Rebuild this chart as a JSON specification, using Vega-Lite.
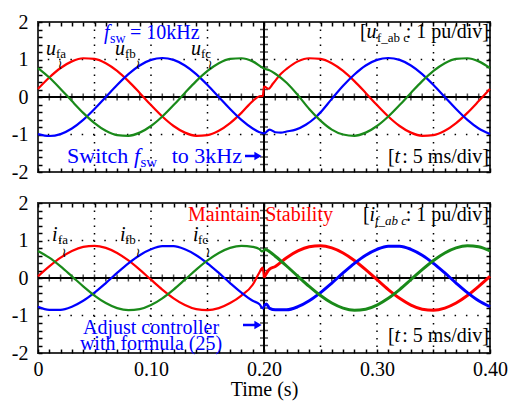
{
"$schema": "https://vega.github.io/schema/vega-lite/v6.json",
"padding": {"left": 10, "top": 11, "right": 3, "bottom": 3},
"bounds": "flush",
"spacing": 31,
"config": {
  "font": "'Liberation Serif', 'Times New Roman', serif",
  "text": {"font": "'Liberation Serif', 'Times New Roman', serif"},
  "view": {"stroke": "#333", "strokeWidth": 2},
  "axis": {"labelFont": "'Liberation Serif', 'Times New Roman', serif", "labelFontSize": 20, "labelColor": "#000", "titleFont": "'Liberation Serif', 'Times New Roman', serif", "titleFontSize": 20, "titleFontWeight": "normal", "titleColor": "#000", "tickColor": "#000", "tickWidth": 1.5, "domain": false, "grid": false, "labelOverlap": false, "labelBound": false, "labelFlush": false}
},
"datasets": {
  "gx": [{"t":0.05},{"t":0.1},{"t":0.15},{"t":0.25},{"t":0.3},{"t":0.35}],
  "gy": [{"v":-1},{"v":1}],
  "xt": [{"t":0.01},{"t":0.02},{"t":0.03},{"t":0.04},{"t":0.05},{"t":0.06},{"t":0.07},{"t":0.08},{"t":0.09},{"t":0.1},{"t":0.11},{"t":0.12},{"t":0.13},{"t":0.14},{"t":0.15},{"t":0.16},{"t":0.17},{"t":0.18},{"t":0.19},{"t":0.21},{"t":0.22},{"t":0.23},{"t":0.24},{"t":0.25},{"t":0.26},{"t":0.27},{"t":0.28},{"t":0.29},{"t":0.3},{"t":0.31},{"t":0.32},{"t":0.33},{"t":0.34},{"t":0.35},{"t":0.36},{"t":0.37},{"t":0.38},{"t":0.39}],
  "yt": [{"v":-1.8},{"v":-1.6},{"v":-1.4},{"v":-1.2},{"v":-1},{"v":-0.8},{"v":-0.6},{"v":-0.4},{"v":-0.2},{"v":0.2},{"v":0.4},{"v":0.6},{"v":0.8},{"v":1},{"v":1.2},{"v":1.4},{"v":1.6},{"v":1.8}],
  "top": [
    {"t":0,"s":"a","v":0.216},{"t":0.01,"s":"a","v":0.52},{"t":0.02,"s":"a","v":0.773},{"t":0.03,"s":"a","v":0.95},{"t":0.04,"s":"a","v":1.034},{"t":0.05,"s":"a","v":1.017},{"t":0.06,"s":"a","v":0.901},{"t":0.07,"s":"a","v":0.696},{"t":0.08,"s":"a","v":0.423},{"t":0.09,"s":"a","v":0.109},{"t":0.1,"s":"a","v":-0.216},{"t":0.11,"s":"a","v":-0.52},{"t":0.12,"s":"a","v":-0.773},{"t":0.13,"s":"a","v":-0.95},{"t":0.14,"s":"a","v":-1.034},{"t":0.15,"s":"a","v":-1.017},{"t":0.16,"s":"a","v":-0.901},{"t":0.17,"s":"a","v":-0.696},{"t":0.18,"s":"a","v":-0.423},{"t":0.19,"s":"a","v":-0.109},{"t":0.196,"s":"a","v":0.02},{"t":0.199,"s":"a","v":0.03},{"t":0.2,"s":"a","v":0.28},{"t":0.204,"s":"a","v":0.22},{"t":0.208,"s":"a","v":0.36},{"t":0.215,"s":"a","v":0.62},{"t":0.22,"s":"a","v":0.75},{"t":0.23,"s":"a","v":0.95},{"t":0.24,"s":"a","v":1.034},{"t":0.25,"s":"a","v":1.017},{"t":0.26,"s":"a","v":0.901},{"t":0.27,"s":"a","v":0.696},{"t":0.28,"s":"a","v":0.423},{"t":0.29,"s":"a","v":0.109},{"t":0.3,"s":"a","v":-0.216},{"t":0.31,"s":"a","v":-0.52},{"t":0.32,"s":"a","v":-0.773},{"t":0.33,"s":"a","v":-0.95},{"t":0.34,"s":"a","v":-1.034},{"t":0.35,"s":"a","v":-1.017},{"t":0.36,"s":"a","v":-0.901},{"t":0.37,"s":"a","v":-0.696},{"t":0.38,"s":"a","v":-0.423},{"t":0.39,"s":"a","v":-0.109},{"t":0.4,"s":"a","v":0.216},
    {"t":0,"s":"b","v":-0.989},{"t":0.01,"s":"b","v":-1.04},{"t":0.02,"s":"b","v":-0.989},{"t":0.03,"s":"b","v":-0.841},{"t":0.04,"s":"b","v":-0.611},{"t":0.05,"s":"b","v":-0.321},{"t":0.06,"s":"b","v":0},{"t":0.07,"s":"b","v":0.321},{"t":0.08,"s":"b","v":0.611},{"t":0.09,"s":"b","v":0.841},{"t":0.1,"s":"b","v":0.989},{"t":0.11,"s":"b","v":1.04},{"t":0.12,"s":"b","v":0.989},{"t":0.13,"s":"b","v":0.841},{"t":0.14,"s":"b","v":0.611},{"t":0.15,"s":"b","v":0.321},{"t":0.16,"s":"b","v":0},{"t":0.17,"s":"b","v":-0.321},{"t":0.18,"s":"b","v":-0.611},{"t":0.19,"s":"b","v":-0.841},{"t":0.196,"s":"b","v":-0.94},{"t":0.2,"s":"b","v":-0.97},{"t":0.205,"s":"b","v":-0.87},{"t":0.21,"s":"b","v":-0.94},{"t":0.215,"s":"b","v":-0.95},{"t":0.22,"s":"b","v":-0.92},{"t":0.228,"s":"b","v":-0.87},{"t":0.237,"s":"b","v":-0.74},{"t":0.245,"s":"b","v":-0.56},{"t":0.25,"s":"b","v":-0.41},{"t":0.26,"s":"b","v":-0.05},{"t":0.27,"s":"b","v":0.3},{"t":0.28,"s":"b","v":0.6},{"t":0.29,"s":"b","v":0.84},{"t":0.3,"s":"b","v":0.989},{"t":0.31,"s":"b","v":1.04},{"t":0.32,"s":"b","v":0.989},{"t":0.33,"s":"b","v":0.841},{"t":0.34,"s":"b","v":0.611},{"t":0.35,"s":"b","v":0.321},{"t":0.36,"s":"b","v":0},{"t":0.37,"s":"b","v":-0.321},{"t":0.38,"s":"b","v":-0.611},{"t":0.39,"s":"b","v":-0.841},{"t":0.4,"s":"b","v":-0.989},
    {"t":0,"s":"c","v":0.773},{"t":0.01,"s":"c","v":0.52},{"t":0.02,"s":"c","v":0.216},{"t":0.03,"s":"c","v":-0.109},{"t":0.04,"s":"c","v":-0.423},{"t":0.05,"s":"c","v":-0.696},{"t":0.06,"s":"c","v":-0.901},{"t":0.07,"s":"c","v":-1.017},{"t":0.08,"s":"c","v":-1.034},{"t":0.09,"s":"c","v":-0.95},{"t":0.1,"s":"c","v":-0.773},{"t":0.11,"s":"c","v":-0.52},{"t":0.12,"s":"c","v":-0.216},{"t":0.13,"s":"c","v":0.109},{"t":0.14,"s":"c","v":0.423},{"t":0.15,"s":"c","v":0.696},{"t":0.16,"s":"c","v":0.901},{"t":0.17,"s":"c","v":1.017},{"t":0.18,"s":"c","v":1.034},{"t":0.19,"s":"c","v":0.95},{"t":0.2,"s":"c","v":0.76},{"t":0.205,"s":"c","v":0.71},{"t":0.21,"s":"c","v":0.62},{"t":0.22,"s":"c","v":0.38},{"t":0.23,"s":"c","v":0.05},{"t":0.24,"s":"c","v":-0.32},{"t":0.25,"s":"c","v":-0.63},{"t":0.26,"s":"c","v":-0.87},{"t":0.27,"s":"c","v":-1.0},{"t":0.28,"s":"c","v":-1.034},{"t":0.29,"s":"c","v":-0.95},{"t":0.3,"s":"c","v":-0.773},{"t":0.31,"s":"c","v":-0.52},{"t":0.32,"s":"c","v":-0.216},{"t":0.33,"s":"c","v":0.109},{"t":0.34,"s":"c","v":0.423},{"t":0.35,"s":"c","v":0.696},{"t":0.36,"s":"c","v":0.901},{"t":0.37,"s":"c","v":1.017},{"t":0.38,"s":"c","v":1.034},{"t":0.39,"s":"c","v":0.95},{"t":0.4,"s":"c","v":0.773}
  ],
  "bot": [
    {"t":0,"s":"a","v":0.045},{"t":0.01,"s":"a","v":0.308},{"t":0.02,"s":"a","v":0.541},{"t":0.03,"s":"a","v":0.721},{"t":0.04,"s":"a","v":0.831},{"t":0.05,"s":"a","v":0.859},{"t":0.06,"s":"a","v":0.803},{"t":0.07,"s":"a","v":0.668},{"t":0.08,"s":"a","v":0.468},{"t":0.09,"s":"a","v":0.223},{"t":0.1,"s":"a","v":-0.045},{"t":0.11,"s":"a","v":-0.308},{"t":0.12,"s":"a","v":-0.541},{"t":0.13,"s":"a","v":-0.721},{"t":0.14,"s":"a","v":-0.831},{"t":0.15,"s":"a","v":-0.859},{"t":0.16,"s":"a","v":-0.803},{"t":0.17,"s":"a","v":-0.668},{"t":0.18,"s":"a","v":-0.468},{"t":0.19,"s":"a","v":-0.18},{"t":0.1958,"s":"a","v":0.14},{"t":0.1988,"s":"a","v":0.275},{"t":0.2,"s":"a","v":0.01},{"t":0.2047,"s":"a","v":0.23},{"t":0.21,"s":"a","v":0.308},{"t":0.22,"s":"a","v":0.541},{"t":0.23,"s":"a","v":0.721},{"t":0.24,"s":"a","v":0.831},{"t":0.25,"s":"a","v":0.859},{"t":0.26,"s":"a","v":0.803},{"t":0.27,"s":"a","v":0.668},{"t":0.28,"s":"a","v":0.468},{"t":0.29,"s":"a","v":0.223},{"t":0.3,"s":"a","v":-0.045},{"t":0.31,"s":"a","v":-0.308},{"t":0.32,"s":"a","v":-0.541},{"t":0.33,"s":"a","v":-0.721},{"t":0.34,"s":"a","v":-0.831},{"t":0.35,"s":"a","v":-0.859},{"t":0.36,"s":"a","v":-0.803},{"t":0.37,"s":"a","v":-0.668},{"t":0.38,"s":"a","v":-0.468},{"t":0.39,"s":"a","v":-0.223},{"t":0.4,"s":"a","v":0.045},
    {"t":0,"s":"b","v":-0.766},{"t":0.01,"s":"b","v":-0.849},{"t":0.02,"s":"b","v":-0.849},{"t":0.03,"s":"b","v":-0.766},{"t":0.04,"s":"b","v":-0.608},{"t":0.05,"s":"b","v":-0.39},{"t":0.06,"s":"b","v":-0.135},{"t":0.07,"s":"b","v":0.135},{"t":0.08,"s":"b","v":0.39},{"t":0.09,"s":"b","v":0.608},{"t":0.1,"s":"b","v":0.766},{"t":0.11,"s":"b","v":0.849},{"t":0.12,"s":"b","v":0.849},{"t":0.13,"s":"b","v":0.766},{"t":0.14,"s":"b","v":0.608},{"t":0.15,"s":"b","v":0.39},{"t":0.16,"s":"b","v":0.135},{"t":0.17,"s":"b","v":-0.135},{"t":0.18,"s":"b","v":-0.39},{"t":0.19,"s":"b","v":-0.608},{"t":0.196,"s":"b","v":-0.7},{"t":0.199,"s":"b","v":-0.81},{"t":0.2,"s":"b","v":-0.75},{"t":0.202,"s":"b","v":-0.69},{"t":0.205,"s":"b","v":-0.81},{"t":0.21,"s":"b","v":-0.849},{"t":0.22,"s":"b","v":-0.849},{"t":0.23,"s":"b","v":-0.766},{"t":0.24,"s":"b","v":-0.608},{"t":0.25,"s":"b","v":-0.39},{"t":0.26,"s":"b","v":-0.135},{"t":0.27,"s":"b","v":0.135},{"t":0.28,"s":"b","v":0.39},{"t":0.29,"s":"b","v":0.608},{"t":0.3,"s":"b","v":0.766},{"t":0.31,"s":"b","v":0.849},{"t":0.32,"s":"b","v":0.849},{"t":0.33,"s":"b","v":0.766},{"t":0.34,"s":"b","v":0.608},{"t":0.35,"s":"b","v":0.39},{"t":0.36,"s":"b","v":0.135},{"t":0.37,"s":"b","v":-0.135},{"t":0.38,"s":"b","v":-0.39},{"t":0.39,"s":"b","v":-0.608},{"t":0.4,"s":"b","v":-0.766},
    {"t":0,"s":"c","v":0.721},{"t":0.01,"s":"c","v":0.541},{"t":0.02,"s":"c","v":0.308},{"t":0.03,"s":"c","v":0.045},{"t":0.04,"s":"c","v":-0.223},{"t":0.05,"s":"c","v":-0.468},{"t":0.06,"s":"c","v":-0.668},{"t":0.07,"s":"c","v":-0.803},{"t":0.08,"s":"c","v":-0.859},{"t":0.09,"s":"c","v":-0.831},{"t":0.1,"s":"c","v":-0.721},{"t":0.11,"s":"c","v":-0.541},{"t":0.12,"s":"c","v":-0.308},{"t":0.13,"s":"c","v":-0.045},{"t":0.14,"s":"c","v":0.223},{"t":0.15,"s":"c","v":0.468},{"t":0.16,"s":"c","v":0.668},{"t":0.17,"s":"c","v":0.803},{"t":0.18,"s":"c","v":0.859},{"t":0.19,"s":"c","v":0.831},{"t":0.196,"s":"c","v":0.77},{"t":0.198,"s":"c","v":0.71},{"t":0.2,"s":"c","v":0.74},{"t":0.201,"s":"c","v":0.76},{"t":0.205,"s":"c","v":0.7},{"t":0.21,"s":"c","v":0.58},{"t":0.22,"s":"c","v":0.32},{"t":0.23,"s":"c","v":0.045},{"t":0.24,"s":"c","v":-0.223},{"t":0.25,"s":"c","v":-0.468},{"t":0.26,"s":"c","v":-0.668},{"t":0.27,"s":"c","v":-0.803},{"t":0.28,"s":"c","v":-0.859},{"t":0.29,"s":"c","v":-0.831},{"t":0.3,"s":"c","v":-0.721},{"t":0.31,"s":"c","v":-0.541},{"t":0.32,"s":"c","v":-0.308},{"t":0.33,"s":"c","v":-0.045},{"t":0.34,"s":"c","v":0.223},{"t":0.35,"s":"c","v":0.468},{"t":0.36,"s":"c","v":0.668},{"t":0.37,"s":"c","v":0.803},{"t":0.38,"s":"c","v":0.859},{"t":0.39,"s":"c","v":0.831},{"t":0.4,"s":"c","v":0.721}
  ]
},
"vconcat": [
{
  "width": 452, "height": 150,
  "resolve": {"axis": {"x": "independent", "y": "independent"}},
  "layer": [
    {"data": {"name": "gx"}, "mark": {"type": "rule", "color": "#000", "strokeWidth": 1.5, "strokeDash": [1.5, 6]},
     "encoding": {"x": {"field": "t", "type": "quantitative", "scale": {"domain": [0, 0.4], "nice": false, "zero": false},
       "axis": {"orient": "top", "values": [0,0.01,0.02,0.03,0.04,0.05,0.06,0.07,0.08,0.09,0.1,0.11,0.12,0.13,0.14,0.15,0.16,0.17,0.18,0.19,0.2,0.21,0.22,0.23,0.24,0.25,0.26,0.27,0.28,0.29,0.3,0.31,0.32,0.33,0.34,0.35,0.36,0.37,0.38,0.39,0.4], "labels": false, "tickSize": -4, "title": null}}}},
    {"data": {"name": "gy"}, "mark": {"type": "rule", "color": "#000", "strokeWidth": 1.5, "strokeDash": [1.5, 9.8]},
     "encoding": {"y": {"field": "v", "type": "quantitative", "scale": {"domain": [-2, 2], "nice": false, "zero": false},
       "axis": {"orient": "right", "values": [-2,-1.8,-1.6,-1.4,-1.2,-1,-0.8,-0.6,-0.4,-0.2,0,0.2,0.4,0.6,0.8,1,1.2,1.4,1.6,1.8,2], "labels": false, "tickSize": -4, "title": null}}}},
    {"data": {"values": [{}]}, "mark": {"type": "rule", "color": "#000", "strokeWidth": 2},
     "encoding": {"x": {"datum": 0.2, "type": "quantitative", "axis": null}}},
    {"data": {"values": [{}]}, "mark": {"type": "rule", "color": "#000", "strokeWidth": 2},
     "encoding": {"y": {"datum": 0, "type": "quantitative", "axis": null}}},
    {"data": {"name": "xt"}, "mark": {"type": "tick", "orient": "vertical", "size": 7, "thickness": 1.5, "color": "#000"},
     "encoding": {"x": {"field": "t", "type": "quantitative", "axis": null}, "y": {"datum": 0, "type": "quantitative", "axis": null}}},
    {"data": {"name": "yt"}, "mark": {"type": "tick", "orient": "horizontal", "size": 8, "thickness": 1.5, "color": "#000"},
     "encoding": {"y": {"field": "v", "type": "quantitative", "axis": null}, "x": {"datum": 0.2, "type": "quantitative", "axis": null}}},
    {"data": {"name": "top"}, "mark": {"type": "line", "strokeWidth": 2.2, "interpolate": "monotone"},
     "encoding": {
       "x": {"field": "t", "type": "quantitative", "scale": {"domain": [0, 0.4], "nice": false, "zero": false},
         "axis": {"orient": "bottom", "values": [0,0.01,0.02,0.03,0.04,0.05,0.06,0.07,0.08,0.09,0.1,0.11,0.12,0.13,0.14,0.15,0.16,0.17,0.18,0.19,0.2,0.21,0.22,0.23,0.24,0.25,0.26,0.27,0.28,0.29,0.3,0.31,0.32,0.33,0.34,0.35,0.36,0.37,0.38,0.39,0.4], "labels": false, "tickSize": -4, "title": null}},
       "y": {"field": "v", "type": "quantitative", "scale": {"domain": [-2, 2], "nice": false, "zero": false},
         "axis": {"orient": "left", "values": [-2,-1.8,-1.6,-1.4,-1.2,-1,-0.8,-0.6,-0.4,-0.2,0,0.2,0.4,0.6,0.8,1,1.2,1.4,1.6,1.8,2], "tickSize": -4, "labelPadding": 14, "labelExpr": "datum.value == round(datum.value) ? '' + datum.value : ''", "title": null}},
       "color": {"field": "s", "type": "nominal", "scale": {"domain": ["a", "b", "c"], "range": ["#ff0000", "#0000ff", "#1a8a1a"]}, "legend": null},
       "order": {"field": "t", "type": "quantitative"}}},
    {"data": {"values": [{"t": 0.0071, "v": 1.12, "label": "u"}, {"t": 0.0681, "v": 1.12, "label": "u"}, {"t": 0.1354, "v": 1.12, "label": "u"}, {"t": 0.2907, "v": 1.573, "label": "u"}, {"t": 0.3155, "v": -1.76, "label": "t"}]},
     "mark": {"type": "text", "fontSize": 20, "fontStyle": "italic", "align": "left", "baseline": "alphabetic", "color": "#000"},
     "encoding": {"x": {"field": "t", "type": "quantitative", "axis": null}, "y": {"field": "v", "type": "quantitative", "axis": null}, "text": {"field": "label"}}},
    {"data": {"values": [{"t": 0.0159, "v": 1.04, "label": "fa"}, {"t": 0.077, "v": 1.04, "label": "fb"}, {"t": 0.1442, "v": 1.04, "label": "fc"}, {"t": 0.3, "v": 1.467, "label": "f_ab c"}]},
     "mark": {"type": "text", "fontSize": 13, "align": "left", "baseline": "alphabetic", "color": "#000"},
     "encoding": {"x": {"field": "t", "type": "quantitative", "axis": null}, "y": {"field": "v", "type": "quantitative", "axis": null}, "text": {"field": "label"}}},
    {"data": {"values": [{"t": 0.0195, "v": 0.76, "label": "≀"}, {"t": 0.0885, "v": 0.76, "label": "≀"}, {"t": 0.1522, "v": 0.76, "label": "≀"}]},
     "mark": {"type": "text", "fontSize": 13, "align": "center", "baseline": "alphabetic", "color": "#000", "font": "DejaVu Sans"},
     "encoding": {"x": {"field": "t", "type": "quantitative", "axis": null}, "y": {"field": "v", "type": "quantitative", "axis": null}, "text": {"field": "label"}}},
    {"data": {"values": [{"t": 0.285, "v": 1.573, "label": "["}, {"t": 0.3097, "v": -1.76, "label": "["}]},
     "mark": {"type": "text", "fontSize": 20, "align": "left", "baseline": "alphabetic", "color": "#000"},
     "encoding": {"x": {"field": "t", "type": "quantitative", "axis": null}, "y": {"field": "v", "type": "quantitative", "axis": null}, "text": {"field": "label"}}},
    {"data": {"values": [{"t": 0.3991, "v": 1.573, "label": ": 1 pu/div]"}, {"t": 0.3991, "v": -1.76, "label": ": 5 ms/div]"}]},
     "mark": {"type": "text", "fontSize": 20, "align": "right", "baseline": "alphabetic", "color": "#000"},
     "encoding": {"x": {"field": "t", "type": "quantitative", "axis": null}, "y": {"field": "v", "type": "quantitative", "axis": null}, "text": {"field": "label"}}},
    {"data": {"values": [{"t": 0.0584, "v": 1.547, "label": "f"}]},
     "mark": {"type": "text", "fontSize": 20, "fontStyle": "italic", "align": "left", "baseline": "alphabetic", "color": "#0000ff"},
     "encoding": {"x": {"field": "t", "type": "quantitative", "axis": null}, "y": {"field": "v", "type": "quantitative", "axis": null}, "text": {"field": "label"}}},
    {"data": {"values": [{"t": 0.085, "v": -1.76, "label": "f"}]},
     "mark": {"type": "text", "fontSize": 22, "fontStyle": "italic", "align": "left", "baseline": "alphabetic", "color": "#0000ff"},
     "encoding": {"x": {"field": "t", "type": "quantitative", "axis": null}, "y": {"field": "v", "type": "quantitative", "axis": null}, "text": {"field": "label"}}},
    {"data": {"values": [{"t": 0.0637, "v": 1.44, "label": "sw"}]},
     "mark": {"type": "text", "fontSize": 14, "align": "left", "baseline": "alphabetic", "color": "#0000ff"},
     "encoding": {"x": {"field": "t", "type": "quantitative", "axis": null}, "y": {"field": "v", "type": "quantitative", "axis": null}, "text": {"field": "label"}}},
    {"data": {"values": [{"t": 0.0907, "v": -1.867, "label": "sw"}]},
     "mark": {"type": "text", "fontSize": 15, "align": "left", "baseline": "alphabetic", "color": "#0000ff"},
     "encoding": {"x": {"field": "t", "type": "quantitative", "axis": null}, "y": {"field": "v", "type": "quantitative", "axis": null}, "text": {"field": "label"}}},
    {"data": {"values": [{"t": 0.0814, "v": 1.547, "label": "= 10kHz"}]},
     "mark": {"type": "text", "fontSize": 20, "align": "left", "baseline": "alphabetic", "color": "#0000ff"},
     "encoding": {"x": {"field": "t", "type": "quantitative", "axis": null}, "y": {"field": "v", "type": "quantitative", "axis": null}, "text": {"field": "label"}}},
    {"data": {"values": [{"t": 0.0257, "v": -1.76, "label": "Switch"}]},
     "mark": {"type": "text", "fontSize": 22, "align": "left", "baseline": "alphabetic", "color": "#0000ff"},
     "encoding": {"x": {"field": "t", "type": "quantitative", "axis": null}, "y": {"field": "v", "type": "quantitative", "axis": null}, "text": {"field": "label"}}},
    {"data": {"values": [{"t": 0.1805, "v": -1.76, "label": "to 3kHz"}]},
     "mark": {"type": "text", "fontSize": 22, "align": "right", "baseline": "alphabetic", "color": "#0000ff"},
     "encoding": {"x": {"field": "t", "type": "quantitative", "axis": null}, "y": {"field": "v", "type": "quantitative", "axis": null}, "text": {"field": "label"}}},
    {"data": {"values": [{"t": 0.1832, "t2": 0.1938, "v": -1.573}]},
     "mark": {"type": "rule", "color": "#0000ff", "strokeWidth": 2.5},
     "encoding": {"x": {"field": "t", "type": "quantitative", "axis": null}, "x2": {"field": "t2"}, "y": {"field": "v", "type": "quantitative", "axis": null}}},
    {"data": {"values": [{"t": 0.1947, "v": -1.573}]},
     "mark": {"type": "point", "shape": "triangle-right", "size": 70, "filled": true, "opacity": 1, "color": "#0000ff"},
     "encoding": {"x": {"field": "t", "type": "quantitative", "axis": null}, "y": {"field": "v", "type": "quantitative", "axis": null}}}
  ]
},
{
  "width": 452, "height": 150,
  "resolve": {"axis": {"x": "independent", "y": "independent"}},
  "layer": [
    {"data": {"name": "gx"}, "mark": {"type": "rule", "color": "#000", "strokeWidth": 1.5, "strokeDash": [1.5, 6]},
     "encoding": {"x": {"field": "t", "type": "quantitative", "scale": {"domain": [0, 0.4], "nice": false, "zero": false},
       "axis": {"orient": "top", "values": [0,0.01,0.02,0.03,0.04,0.05,0.06,0.07,0.08,0.09,0.1,0.11,0.12,0.13,0.14,0.15,0.16,0.17,0.18,0.19,0.2,0.21,0.22,0.23,0.24,0.25,0.26,0.27,0.28,0.29,0.3,0.31,0.32,0.33,0.34,0.35,0.36,0.37,0.38,0.39,0.4], "labels": false, "tickSize": -4, "title": null}}}},
    {"data": {"name": "gy"}, "mark": {"type": "rule", "color": "#000", "strokeWidth": 1.5, "strokeDash": [1.5, 9.8]},
     "encoding": {"y": {"field": "v", "type": "quantitative", "scale": {"domain": [-2, 2], "nice": false, "zero": false},
       "axis": {"orient": "right", "values": [-2,-1.8,-1.6,-1.4,-1.2,-1,-0.8,-0.6,-0.4,-0.2,0,0.2,0.4,0.6,0.8,1,1.2,1.4,1.6,1.8,2], "labels": false, "tickSize": -4, "title": null}}}},
    {"data": {"values": [{}]}, "mark": {"type": "rule", "color": "#000", "strokeWidth": 2},
     "encoding": {"x": {"datum": 0.2, "type": "quantitative", "axis": null}}},
    {"data": {"values": [{}]}, "mark": {"type": "rule", "color": "#000", "strokeWidth": 2},
     "encoding": {"y": {"datum": 0, "type": "quantitative", "axis": null}}},
    {"data": {"name": "xt"}, "mark": {"type": "tick", "orient": "vertical", "size": 7, "thickness": 1.5, "color": "#000"},
     "encoding": {"x": {"field": "t", "type": "quantitative", "axis": null}, "y": {"datum": 0, "type": "quantitative", "axis": null}}},
    {"data": {"name": "yt"}, "mark": {"type": "tick", "orient": "horizontal", "size": 8, "thickness": 1.5, "color": "#000"},
     "encoding": {"y": {"field": "v", "type": "quantitative", "axis": null}, "x": {"datum": 0.2, "type": "quantitative", "axis": null}}},
    {"data": {"name": "bot"}, "transform": [{"filter": {"field": "t", "range": [0, 0.2]}}],
     "mark": {"type": "line", "strokeWidth": 2.2, "interpolate": "monotone"},
     "encoding": {
       "x": {"field": "t", "type": "quantitative", "scale": {"domain": [0, 0.4], "nice": false, "zero": false},
         "axis": {"orient": "bottom", "values": [0,0.01,0.02,0.03,0.04,0.05,0.06,0.07,0.08,0.09,0.1,0.11,0.12,0.13,0.14,0.15,0.16,0.17,0.18,0.19,0.2,0.21,0.22,0.23,0.24,0.25,0.26,0.27,0.28,0.29,0.3,0.31,0.32,0.33,0.34,0.35,0.36,0.37,0.38,0.39,0.4], "tickSize": -4, "labelPadding": 10, "labelExpr": "datum.value == 0 ? '0' : (abs(datum.value*10 - round(datum.value*10)) < 0.001 ? format(datum.value, '.2f') : '')", "title": "Time (s)", "titlePadding": 0}},
       "y": {"field": "v", "type": "quantitative", "scale": {"domain": [-2, 2], "nice": false, "zero": false},
         "axis": {"orient": "left", "values": [-2,-1.8,-1.6,-1.4,-1.2,-1,-0.8,-0.6,-0.4,-0.2,0,0.2,0.4,0.6,0.8,1,1.2,1.4,1.6,1.8,2], "tickSize": -4, "labelPadding": 14, "labelExpr": "datum.value == round(datum.value) ? '' + datum.value : ''", "title": null}},
       "color": {"field": "s", "type": "nominal", "scale": {"domain": ["a", "b", "c"], "range": ["#ff0000", "#0000ff", "#1a8a1a"]}, "legend": null},
       "order": {"field": "t", "type": "quantitative"}}},
    {"data": {"name": "bot"}, "transform": [{"filter": {"field": "t", "range": [0.2, 0.4]}}],
     "mark": {"type": "line", "strokeWidth": 3, "interpolate": "monotone"},
     "encoding": {
       "x": {"field": "t", "type": "quantitative", "axis": null},
       "y": {"field": "v", "type": "quantitative", "axis": null},
       "color": {"field": "s", "type": "nominal", "scale": {"domain": ["a", "b", "c"], "range": ["#ff0000", "#0000ff", "#1a8a1a"]}, "legend": null},
       "order": {"field": "t", "type": "quantitative"}}},
    {"data": {"values": [{"t": 0.0124, "v": 0.987, "label": "i"}, {"t": 0.0726, "v": 0.987, "label": "i"}, {"t": 0.1372, "v": 0.987, "label": "i"}, {"t": 0.2934, "v": 1.52, "label": "i"}, {"t": 0.3155, "v": -1.707, "label": "t"}]},
     "mark": {"type": "text", "fontSize": 20, "fontStyle": "italic", "align": "left", "baseline": "alphabetic", "color": "#000"},
     "encoding": {"x": {"field": "t", "type": "quantitative", "axis": null}, "y": {"field": "v", "type": "quantitative", "axis": null}, "text": {"field": "label"}}},
    {"data": {"values": [{"t": 0.0177, "v": 0.907, "label": "fa"}, {"t": 0.077, "v": 0.907, "label": "fb"}, {"t": 0.1416, "v": 0.907, "label": "fc"}]},
     "mark": {"type": "text", "fontSize": 13, "align": "left", "baseline": "alphabetic", "color": "#000"},
     "encoding": {"x": {"field": "t", "type": "quantitative", "axis": null}, "y": {"field": "v", "type": "quantitative", "axis": null}, "text": {"field": "label"}}},
    {"data": {"values": [{"t": 0.2982, "v": 1.413, "label": "f_ab c"}]},
     "mark": {"type": "text", "fontSize": 13, "fontStyle": "italic", "align": "left", "baseline": "alphabetic", "color": "#000"},
     "encoding": {"x": {"field": "t", "type": "quantitative", "axis": null}, "y": {"field": "v", "type": "quantitative", "axis": null}, "text": {"field": "label"}}},
    {"data": {"values": [{"t": 0.023, "v": 0.56, "label": "≀"}, {"t": 0.0885, "v": 0.56, "label": "≀"}, {"t": 0.1504, "v": 0.56, "label": "≀"}]},
     "mark": {"type": "text", "fontSize": 13, "align": "center", "baseline": "alphabetic", "color": "#000", "font": "DejaVu Sans"},
     "encoding": {"x": {"field": "t", "type": "quantitative", "axis": null}, "y": {"field": "v", "type": "quantitative", "axis": null}, "text": {"field": "label"}}},
    {"data": {"values": [{"t": 0.2876, "v": 1.52, "label": "["}, {"t": 0.3097, "v": -1.707, "label": "["}]},
     "mark": {"type": "text", "fontSize": 20, "align": "left", "baseline": "alphabetic", "color": "#000"},
     "encoding": {"x": {"field": "t", "type": "quantitative", "axis": null}, "y": {"field": "v", "type": "quantitative", "axis": null}, "text": {"field": "label"}}},
    {"data": {"values": [{"t": 0.3991, "v": 1.52, "label": ": 1 pu/div]"}, {"t": 0.3991, "v": -1.707, "label": ": 5 ms/div]"}]},
     "mark": {"type": "text", "fontSize": 20, "align": "right", "baseline": "alphabetic", "color": "#000"},
     "encoding": {"x": {"field": "t", "type": "quantitative", "axis": null}, "y": {"field": "v", "type": "quantitative", "axis": null}, "text": {"field": "label"}}},
    {"data": {"values": [{"t": 0.1327, "v": 1.52, "label": "Maintain Stability"}]},
     "mark": {"type": "text", "fontSize": 20, "align": "left", "baseline": "alphabetic", "color": "#ff0000"},
     "encoding": {"x": {"field": "t", "type": "quantitative", "axis": null}, "y": {"field": "v", "type": "quantitative", "axis": null}, "text": {"field": "label"}}},
    {"data": {"values": [{"t": 0.1, "v": -1.493, "label": "Adjust controller"}, {"t": 0.1, "v": -1.92, "label": "with formula (25)"}]},
     "mark": {"type": "text", "fontSize": 20, "align": "center", "baseline": "alphabetic", "color": "#0000ff"},
     "encoding": {"x": {"field": "t", "type": "quantitative", "axis": null}, "y": {"field": "v", "type": "quantitative", "axis": null}, "text": {"field": "label"}}},
    {"data": {"values": [{"t": 0.1814, "t2": 0.1938, "v": -1.253}]},
     "mark": {"type": "rule", "color": "#0000ff", "strokeWidth": 2.5},
     "encoding": {"x": {"field": "t", "type": "quantitative", "axis": null}, "x2": {"field": "t2"}, "y": {"field": "v", "type": "quantitative", "axis": null}}},
    {"data": {"values": [{"t": 0.1947, "v": -1.253}]},
     "mark": {"type": "point", "shape": "triangle-right", "size": 70, "filled": true, "opacity": 1, "color": "#0000ff"},
     "encoding": {"x": {"field": "t", "type": "quantitative", "axis": null}, "y": {"field": "v", "type": "quantitative", "axis": null}}}
  ]
}
]
}
